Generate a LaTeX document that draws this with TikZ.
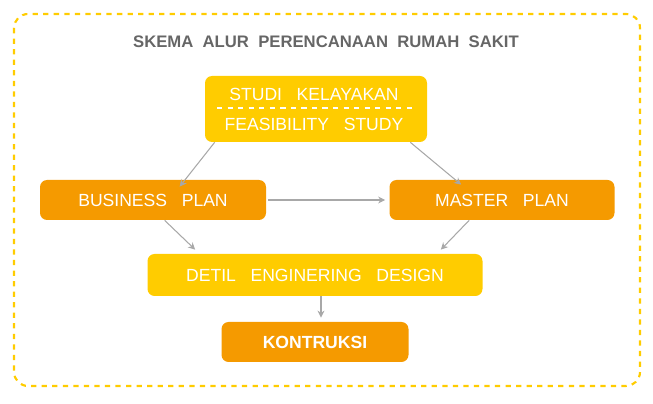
\documentclass[tikz,border=0pt]{standalone}
\usepackage{fontspec}
\setmainfont{Liberation Sans}
\usetikzlibrary{positioning,arrows.meta}
\definecolor{kuning}{HTML}{FFCC00}
\definecolor{oranye}{HTML}{F59A00}
\definecolor{garis}{HTML}{A8A8A8}
\begin{document}
\begin{tikzpicture}[x=0.02cm,y=-0.02cm,
  kotak/.style={rounded corners=4pt, text=white, font=\fontsize{10}{12}\selectfont, inner sep=0pt},
  arr/.style={garis, -{Stealth[length=4pt,width=4pt]}, line width=0.6pt},
]
\useasboundingbox (0,0) rectangle (653,404);
\draw[kuning, dashed, line width=1.2pt, rounded corners=8pt] (14,14) rectangle (640,386);
\node (judul) [text=black!60, font=\fontsize{9.5}{11}\selectfont\bfseries] at (326,42) {SKEMA\ \ ALUR\ \ PERENCANAAN\ \ RUMAH\ \ SAKIT};

\node (studi) [kotak, fill=kuning, minimum width=222*0.02cm, minimum height=66*0.02cm] at (316,109) {};
\node (studiA) [text=white, font=\fontsize{10}{12}\selectfont] at (314,94) {STUDI\ \ \ KELAYAKAN};
\node (studiB) [text=white, font=\fontsize{10}{12}\selectfont] at (314,124) {FEASIBILITY\ \ \ STUDY};
\draw[white, dashed, line width=0.8pt] (217,108) -- (413,108);

\node (bisnis) [kotak, fill=oranye, minimum width=226*0.02cm, minimum height=40*0.02cm] at (153,200) {BUSINESS\ \ \ PLAN};
\node (master) [kotak, fill=oranye, minimum width=225*0.02cm, minimum height=40*0.02cm] at (502,200) {MASTER\ \ \ PLAN};
\node (detil) [kotak, fill=kuning, minimum width=335*0.02cm, minimum height=42*0.02cm] at (315,275) {DETIL\ \ \ ENGINERING\ \ \ DESIGN};
\node (konstruksi) [kotak, fill=oranye, minimum width=187*0.02cm, minimum height=40*0.02cm, font=\fontsize{10}{12}\selectfont\bfseries] at (315,342) {KONTRUKSI};

\draw[arr] ([xshift=10*0.02cm]studi.south west) -- ([xshift=140*0.02cm,yshift=-7*0.02cm]bisnis.north west);
\draw[arr] ([xshift=-17*0.02cm]studi.south east) -- ([xshift=72*0.02cm,yshift=-5*0.02cm]master.north west);
\draw[arr] ([xshift=2*0.02cm]bisnis.east) -- ([xshift=-4*0.02cm]master.west);
\draw[arr] ([xshift=125*0.02cm]bisnis.south west) -- ([xshift=48*0.02cm,yshift=4*0.02cm]detil.north west);
\draw[arr] ([xshift=80*0.02cm]master.south west) -- ([xshift=-42*0.02cm,yshift=4*0.02cm]detil.north east);
\draw[arr] ([xshift=6*0.02cm]detil.south) -- ([xshift=6*0.02cm,yshift=4*0.02cm]konstruksi.north);
\end{tikzpicture}
\end{document}
